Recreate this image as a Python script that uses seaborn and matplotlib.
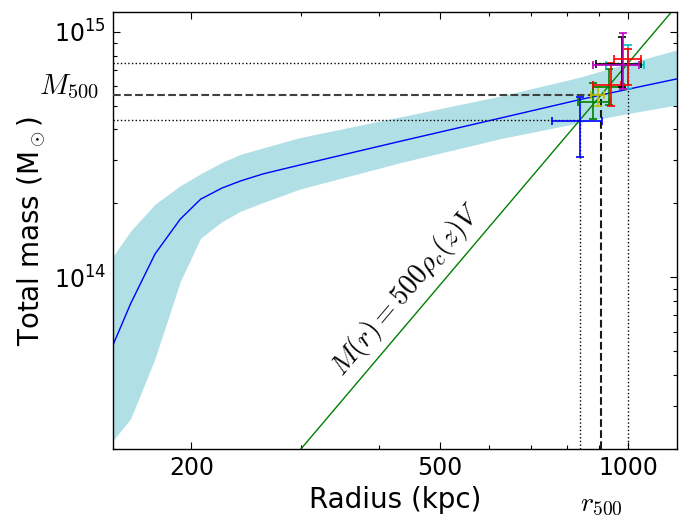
import numpy as np
import matplotlib
matplotlib.use("Agg")
import matplotlib.pyplot as plt
import matplotlib.transforms as mtransforms
from matplotlib.ticker import NullFormatter
import seaborn as sns

# mass profile (kpc, Msun) with its uncertainty band
radius = [150, 160, 175, 192, 207, 224, 240, 261, 299, 432, 625, 837, 999, 1206]
mass = [5.33e13, 7.83e13, 1.245e14, 1.725e14, 2.08e14, 2.31e14, 2.47e14,
        2.64e14, 2.87e14, 3.58e14, 4.45e14, 5.29e14, 5.83e14, 6.45e14]
mass_hi = [1.222e14, 1.545e14, 1.986e14, 2.36e14, 2.64e14, 2.94e14, 3.17e14,
           3.37e14, 3.71e14, 4.50e14, 5.47e14, 6.53e14, 7.43e14, 8.47e14]
mass_lo = [2.17e13, 2.66e13, 4.67e13, 9.6e13, 1.443e14, 1.686e14, 1.86e14,
           2.02e14, 2.29e14, 2.93e14, 3.67e14, 4.26e14, 4.64e14, 5.05e14]

# overdensity 500 solution
r500 = 907.0
m500 = 5.55e14
r500_lo = 837.0
r500_hi = 1000.0

# individual estimates (centre, lower, upper)
pt_r = [837, 878, 894, 931, 938, 999, 979, 982, 999]
pt_r_lo = [755, 831, 872, 878, 878, 921, 888, 879, 949]
pt_r_hi = [908, 935, 915, 986, 975, 1060, 1048, 1040, 1048]
pt_m = [4.35e14, 5.19e14, 5.50e14, 5.93e14, 6.09e14, 7.29e14, 7.36e14, 7.29e14, 7.78e14]
pt_m_lo = [3.10e14, 4.43e14, 5.0e14, 5.05e14, 5.0e14, 5.82e14, 5.97e14, 5.82e14, 6.09e14]
pt_m_hi = [5.44e14, 6.21e14, 5.93e14, 7.02e14, 7.49e14, 8.87e14, 9.48e14, 9.84e14, 8.47e14]
pt_colors = ["b", "g", "y", "g", "r", "c", "k", "m", "r"]

xlim = (150, 1200)
ylim = (2e13, 1.2e15)

sns.set_style("ticks")
plt.rcParams.update({
    "font.family": "DejaVu Sans",
    "mathtext.fontset": "cm",
    "font.size": 17,
    "axes.labelsize": 20,
    "xtick.labelsize": 17,
    "ytick.labelsize": 17,
    "xtick.direction": "in",
    "ytick.direction": "in",
    "xtick.top": True,
    "ytick.right": True,
    "axes.edgecolor": "black",
    "axes.linewidth": 1.0,
    "text.color": "black",
    "axes.labelcolor": "black",
    "xtick.color": "black",
    "ytick.color": "black",
})


def main():
    fig = plt.figure(figsize=(6.95, 5.18), dpi=100)
    ax = fig.add_axes([0.1629, 0.1332, 0.8118, 0.8431])
    ax.set_xscale("log")
    ax.set_yscale("log")

    ax.fill_between(radius, mass_lo, mass_hi, color="powderblue", lw=0, zorder=1)
    sns.lineplot(x=radius, y=mass, color="b", lw=1, ax=ax, zorder=2)

    # M(r) = 500 rho_c V  ->  M ~ r^3
    r_line = np.array(xlim, dtype=float)
    m_line = m500 * (r_line / r500) ** 3
    sns.lineplot(x=r_line, y=m_line, color="g", lw=1, ax=ax, zorder=2)

    m_lo = m500 * (r500_lo / r500) ** 3
    m_hi = m500 * (r500_hi / r500) ** 3
    ax.plot([xlim[0], r500], [m500, m500], ls="--", color="0.25", lw=1.5, zorder=3)
    ax.plot([r500, r500], [ylim[0], m500], ls="--", color="0.1", lw=1.5, zorder=3)
    for rr, mm in [(r500_lo, m_lo), (r500_hi, m_hi)]:
        ax.plot([xlim[0], rr], [mm, mm], ls=":", color="k", lw=1, zorder=3)
        ax.plot([rr, rr], [ylim[0], mm], ls=":", color="k", lw=1, zorder=3)

    for i in range(len(pt_r)):
        xerr = [[pt_r[i] - pt_r_lo[i]], [pt_r_hi[i] - pt_r[i]]]
        yerr = [[pt_m[i] - pt_m_lo[i]], [pt_m_hi[i] - pt_m[i]]]
        ax.errorbar([pt_r[i]], [pt_m[i]], xerr=xerr, yerr=yerr, fmt="none",
                    ecolor=pt_colors[i], elinewidth=1.2, capsize=2.6,
                    capthick=1.2, zorder=4)

    ax.text(442, 8.9e13, r"$M(r) = 500\rho_c(z)V$", rotation=49.7,
            ha="center", va="center", fontsize=20)

    trans_y = mtransforms.blended_transform_factory(ax.transAxes, ax.transData)
    ax.text(-0.025, m500 * 1.07, r"$M_{500}$", transform=trans_y,
            ha="right", va="center", fontsize=21)
    trans_x = mtransforms.blended_transform_factory(ax.transData, ax.transAxes)
    ax.text(r500, -0.125, r"$r_{500}$", transform=trans_x,
            ha="center", va="center", fontsize=20)

    ax.set_xlim(*xlim)
    ax.set_ylim(*ylim)
    ax.set_xticks([200, 500, 1000], labels=["200", "500", "1000"])
    ax.xaxis.set_minor_formatter(NullFormatter())
    ax.yaxis.set_minor_formatter(NullFormatter())
    ax.tick_params(which="major", length=5, width=0.8, pad=5)
    ax.tick_params(which="minor", length=3, width=0.8)

    ax.set_xlabel("Radius (kpc)")
    ax.set_ylabel(r"Total mass (M$_\odot$)")

    fig.savefig("out.png", dpi=100)
    plt.close(fig)


if __name__ == "__main__":
    main()
